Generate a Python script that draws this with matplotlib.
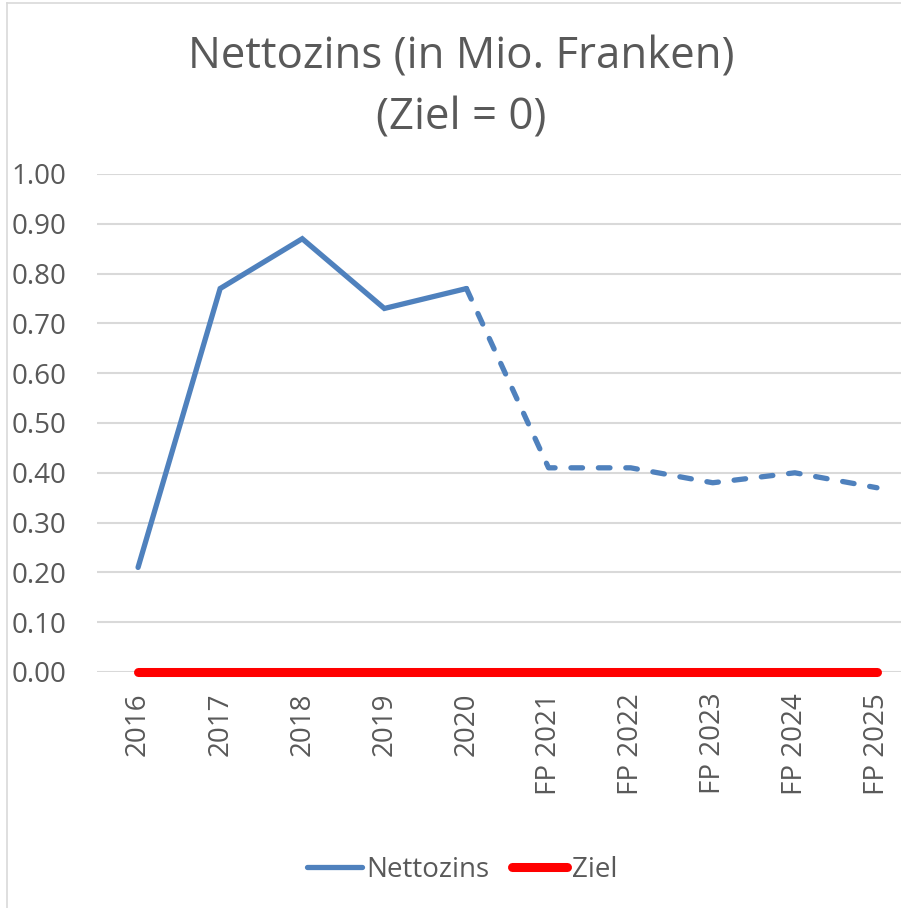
import numpy as np
import matplotlib.pyplot as plt
from matplotlib.lines import Line2D

plt.rcParams['font.family'] = ['Open Sans', 'DejaVu Sans']

# data
years = ['2016', '2017', '2018', '2019', '2020',
         'FP 2021', 'FP 2022', 'FP 2023', 'FP 2024', 'FP 2025']
nettozins = [0.21, 0.77, 0.87, 0.73, 0.77, 0.41, 0.41, 0.38, 0.40, 0.37]
ziel = [0, 0, 0, 0, 0, 0, 0, 0, 0, 0]
n_actual = 5  # first 5 values are actual, rest forecast (dashed)

blue = '#4F81BD'
red = '#FF0000'
grey_txt = '#595959'
grid_c = '#D9D9D9'

W, H = 901, 908
fig = plt.figure(figsize=(W / 100, H / 100), dpi=100)

# chart border (partly cropped in the original)
fig.add_artist(Line2D([6.5 / W, 6.5 / W], [0, 1 - 3 / H], color=grid_c, lw=1.2))
fig.add_artist(Line2D([6.5 / W, 1], [1 - 3 / H, 1 - 3 / H], color=grid_c, lw=1.2))

ax = fig.add_axes([97 / W, (H - 672) / H, (918 - 97) / W, 498 / H])
x = np.arange(len(years))

ax.plot(x[:n_actual], nettozins[:n_actual], color=blue, lw=3.8,
        solid_capstyle='round', solid_joinstyle='miter', label='Nettozins')
ax.plot(x[n_actual - 1:], nettozins[n_actual - 1:], color=blue, lw=3.8,
        dashes=(2.2, 3), dash_capstyle='round', dash_joinstyle='round')
ax.plot(x, ziel, color=red, lw=6.5, solid_capstyle='round', clip_on=False,
        label='Ziel', zorder=3)

ax.set_xlim(-0.5, len(years) - 0.5)
ax.set_ylim(0, 1.0)
ax.set_yticks(np.arange(0, 1.01, 0.1))
ax.set_yticklabels([f'{v:.2f}' for v in np.arange(0, 1.01, 0.1)])
ax.set_xticks(x)
ax.set_xticklabels(years, rotation=90)
ax.yaxis.grid(True, color=grid_c, lw=1.5)
ax.set_axisbelow(True)
for s in ax.spines.values():
    s.set_visible(False)
ax.tick_params(axis='both', length=0, labelsize=20, labelcolor=grey_txt)
ax.tick_params(axis='y', pad=22)
ax.tick_params(axis='x', pad=15)

fig.text(461 / W, 1 - 57 / H, 'Nettozins (in Mio. Franken)', ha='center',
         va='center', fontsize=31.5, color=grey_txt)
fig.text(461 / W, 1 - 118 / H, '(Ziel = 0)', ha='center', va='center',
         fontsize=31.5, color=grey_txt)

handles = [Line2D([], [], color=blue, lw=3.8, solid_capstyle='round'),
           Line2D([], [], color=red, lw=6.5, solid_capstyle='round')]
fig.legend(handles, ['Nettozins', 'Ziel'], loc='center',
           bbox_to_anchor=(462 / W, 1 - 870 / H), ncol=2, frameon=False,
           fontsize=20, labelcolor=grey_txt, handlelength=2.0,
           handletextpad=0.15, columnspacing=0.8)

fig.savefig('out.png', dpi=100)
